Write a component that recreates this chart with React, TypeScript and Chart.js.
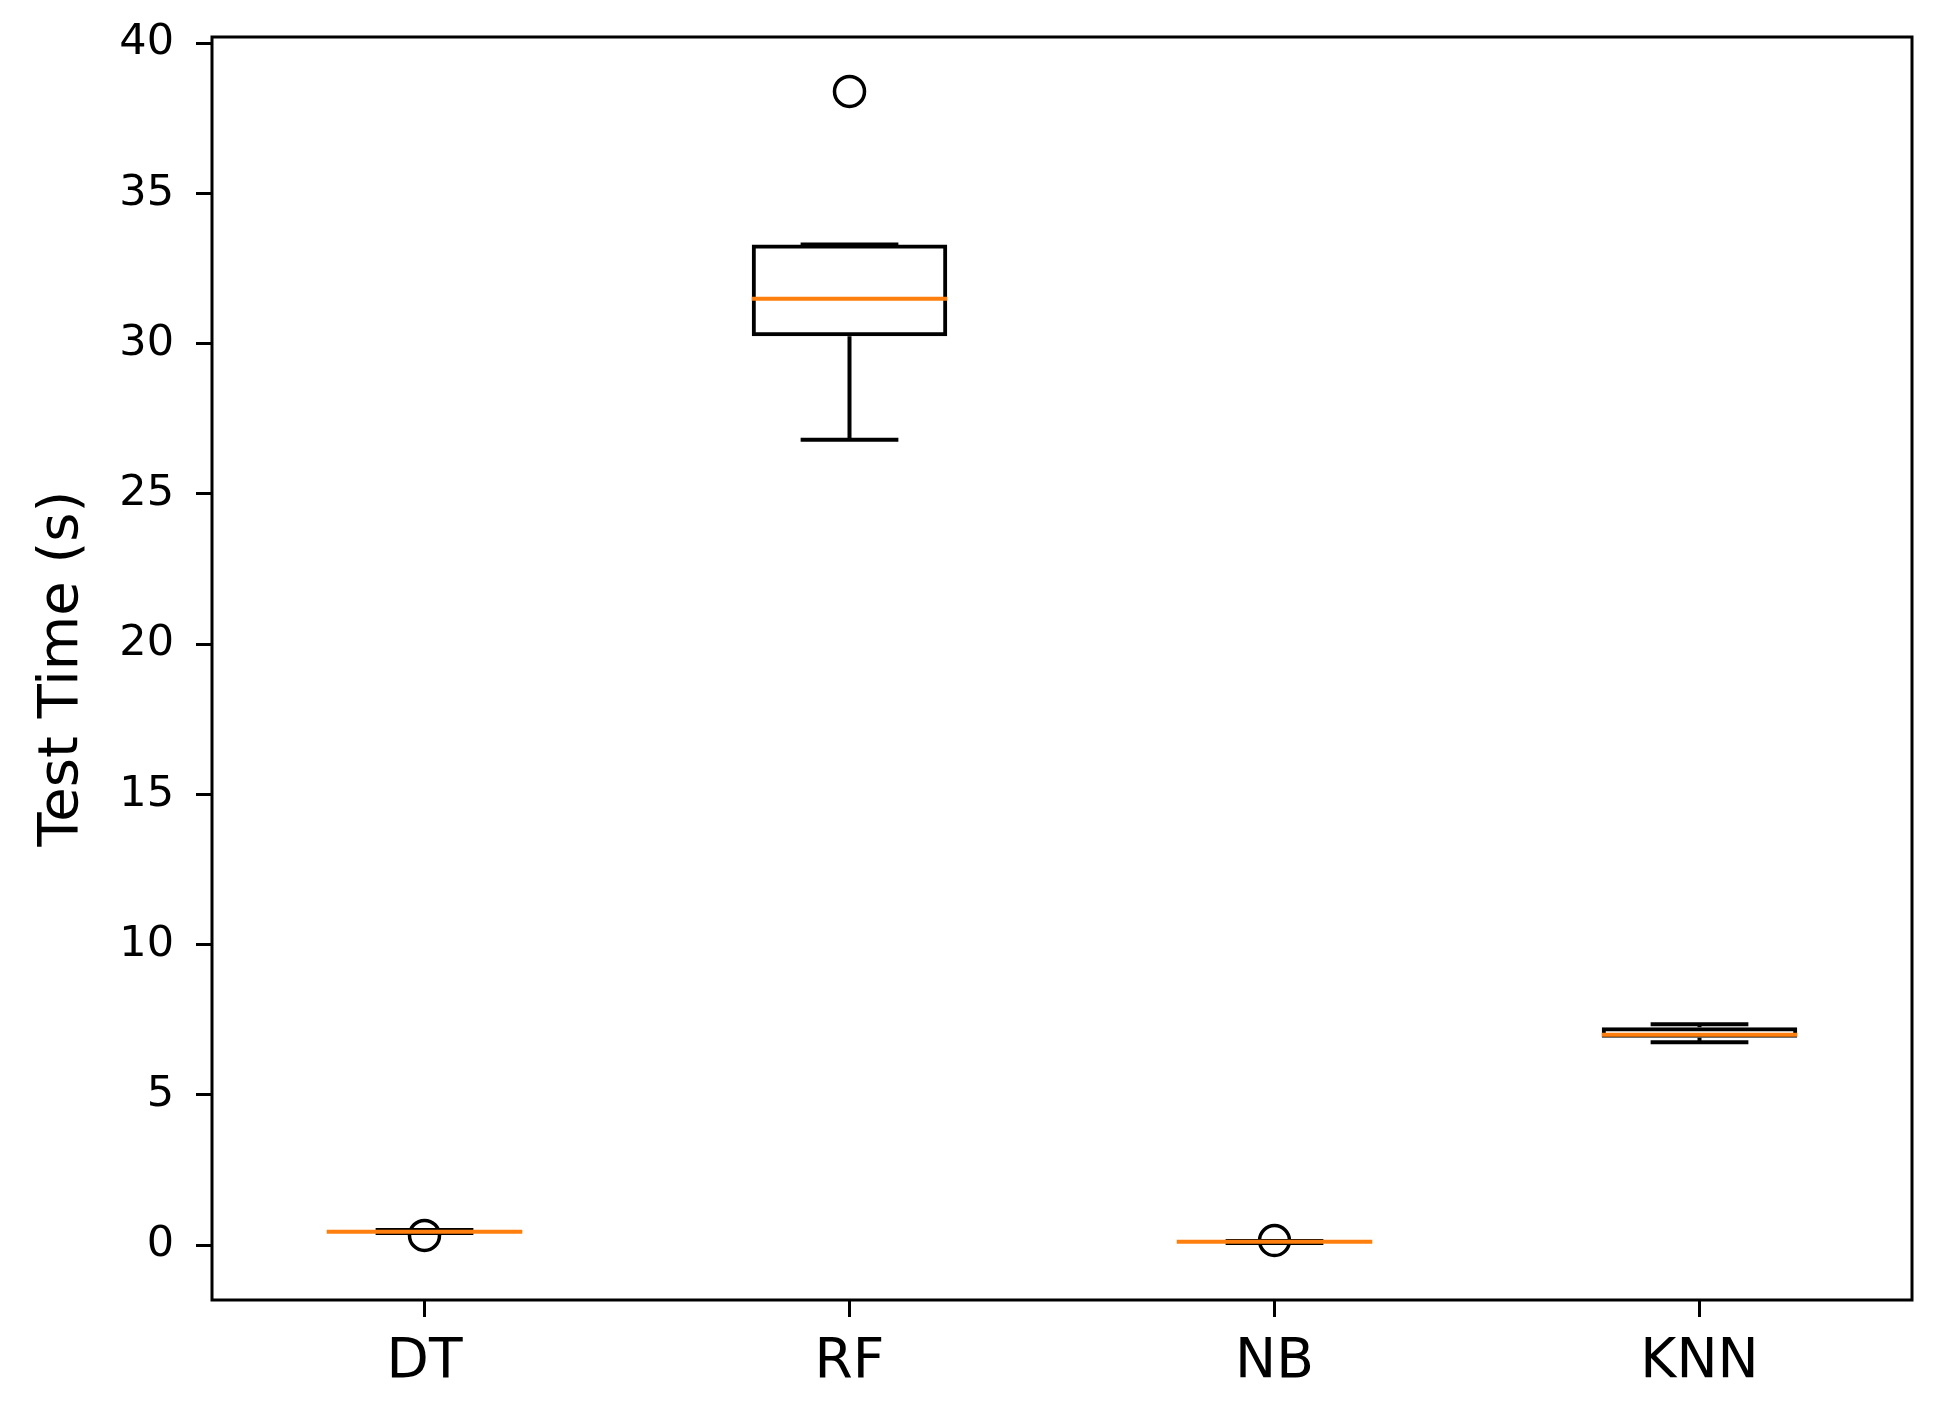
import React, { useEffect, useRef } from "react";
import { Chart, registerables } from "chart.js";

Chart.register(...registerables);

const CATEGORIES = ["DT", "RF", "NB", "KNN"];
const LOWER_WHISKER = [0.40, 26.8, 0.07, 6.75];
const Q1 = [0.42, 30.25, 0.09, 6.9];
const MEDIAN = [0.44, 31.5, 0.11, 7.0];
const Q3 = [0.47, 33.3, 0.12, 7.25];
const UPPER_WHISKER = [0.50, 33.3, 0.13, 7.35];
const OUTLIERS: (number | null)[] = [0.32, 38.4, 0.15, null];
const Y_TICKS = [0, 5, 10, 15, 20, 25, 30, 35, 40];
const Y_MIN = -1.83;
const Y_MAX = 40.21;
const Y_LABEL = "Test Time (s)";

const FONT = "'DejaVu Sans', sans-serif";
const LW = 4;

const boxPlugin = {
  id: "boxWhiskers",
  afterDatasetsDraw(chart: any) {
    const ctx = chart.ctx;
    const x = chart.scales.x;
    const y = chart.scales.y;
    const meta = chart.getDatasetMeta(0);
    ctx.save();
    CATEGORIES.forEach((_, i) => {
      const bar = meta.data[i];
      const cx = x.getPixelForValue(i);
      const half = bar.width / 2;
      const capHalf = bar.width / 4;
      ctx.strokeStyle = "#000";
      ctx.lineWidth = LW;
      ctx.beginPath();
      ctx.moveTo(cx, y.getPixelForValue(Q1[i]));
      ctx.lineTo(cx, y.getPixelForValue(LOWER_WHISKER[i]));
      ctx.moveTo(cx, y.getPixelForValue(Q3[i]));
      ctx.lineTo(cx, y.getPixelForValue(UPPER_WHISKER[i]));
      const yl = y.getPixelForValue(LOWER_WHISKER[i]);
      const yu = y.getPixelForValue(UPPER_WHISKER[i]);
      ctx.moveTo(cx - capHalf, yl);
      ctx.lineTo(cx + capHalf, yl);
      ctx.moveTo(cx - capHalf, yu);
      ctx.lineTo(cx + capHalf, yu);
      ctx.stroke();
      ctx.strokeStyle = "#ff7f0e";
      ctx.beginPath();
      const ym = y.getPixelForValue(MEDIAN[i]);
      ctx.moveTo(cx - half, ym);
      ctx.lineTo(cx + half, ym);
      ctx.stroke();
    });
    ctx.restore();
  },
  afterDraw(chart: any) {
    const { left, right, top, bottom } = chart.chartArea;
    const ctx = chart.ctx;
    ctx.save();
    ctx.strokeStyle = "#000";
    ctx.lineWidth = 3;
    ctx.strokeRect(left, top, right - left, bottom - top);
    ctx.restore();
  },
};

export default function App() {
  const ref = useRef<HTMLCanvasElement | null>(null);

  useEffect(() => {
    if (!ref.current) return;
    const chart = new Chart(ref.current, {
      type: "bar",
      data: {
        labels: CATEGORIES,
        datasets: [
          {
            type: "bar",
            data: CATEGORIES.map((_, i) => [Q1[i], Q3[i]]) as any,
            backgroundColor: "rgba(0,0,0,0)",
            borderColor: "#000",
            borderWidth: LW,
            borderSkipped: false,
            barPercentage: 0.46,
            categoryPercentage: 1,
            order: 2,
          },
          {
            type: "line",
            data: OUTLIERS as any,
            showLine: false,
            pointRadius: 15,
            pointBorderWidth: 3.5,
            pointBackgroundColor: "rgba(0,0,0,0)",
            pointBorderColor: "#000",
            borderColor: "#000",
            order: 1,
          } as any,
        ],
      },
      options: {
        animation: false,
        responsive: false,
        layout: { padding: { top: 37, right: 37, left: 0, bottom: 0 } },
        plugins: { legend: { display: false }, tooltip: { enabled: false } },
        scales: {
          x: {
            type: "category",
            offset: true,
            grid: {
              display: true,
              offset: false,
              drawOnChartArea: false,
              drawTicks: true,
              tickLength: 17,
              tickWidth: 3,
              tickColor: "#000",
            },
            border: { display: false },
            ticks: {
              color: "#000",
              font: { family: FONT, size: 55 },
              padding: 13,
            },
            afterFit(scale: any) {
              scale.height = 113;
              scale.paddingLeft = 0;
              scale.paddingRight = 0;
            },
          },
          y: {
            type: "linear",
            min: Y_MIN,
            max: Y_MAX,
            grid: {
              display: true,
              drawOnChartArea: false,
              drawTicks: true,
              tickLength: 16,
              tickWidth: 3,
              tickColor: "#000",
            },
            border: { display: false },
            ticks: {
              color: "#000",
              font: { family: FONT, size: 43 },
              padding: 22,
            },
            afterBuildTicks(scale: any) {
              scale.ticks = Y_TICKS.map((v) => ({ value: v }));
            },
            title: {
              display: true,
              text: Y_LABEL,
              color: "#000",
              font: { family: FONT, size: 56 },
              padding: { top: 29, bottom: 0 },
            },
            afterFit(scale: any) {
              scale.width = 212;
              scale.paddingTop = 0;
              scale.paddingBottom = 0;
            },
          },
        },
      },
      plugins: [boxPlugin],
    } as any);
    return () => chart.destroy();
  }, []);

  return (
    <div style={{ position: "fixed", left: 0, top: 0, width: 1949, height: 1413, background: "#fff" }}>
      <canvas ref={ref} width={1949} height={1413} style={{ display: "block" }} />
    </div>
  );
}
